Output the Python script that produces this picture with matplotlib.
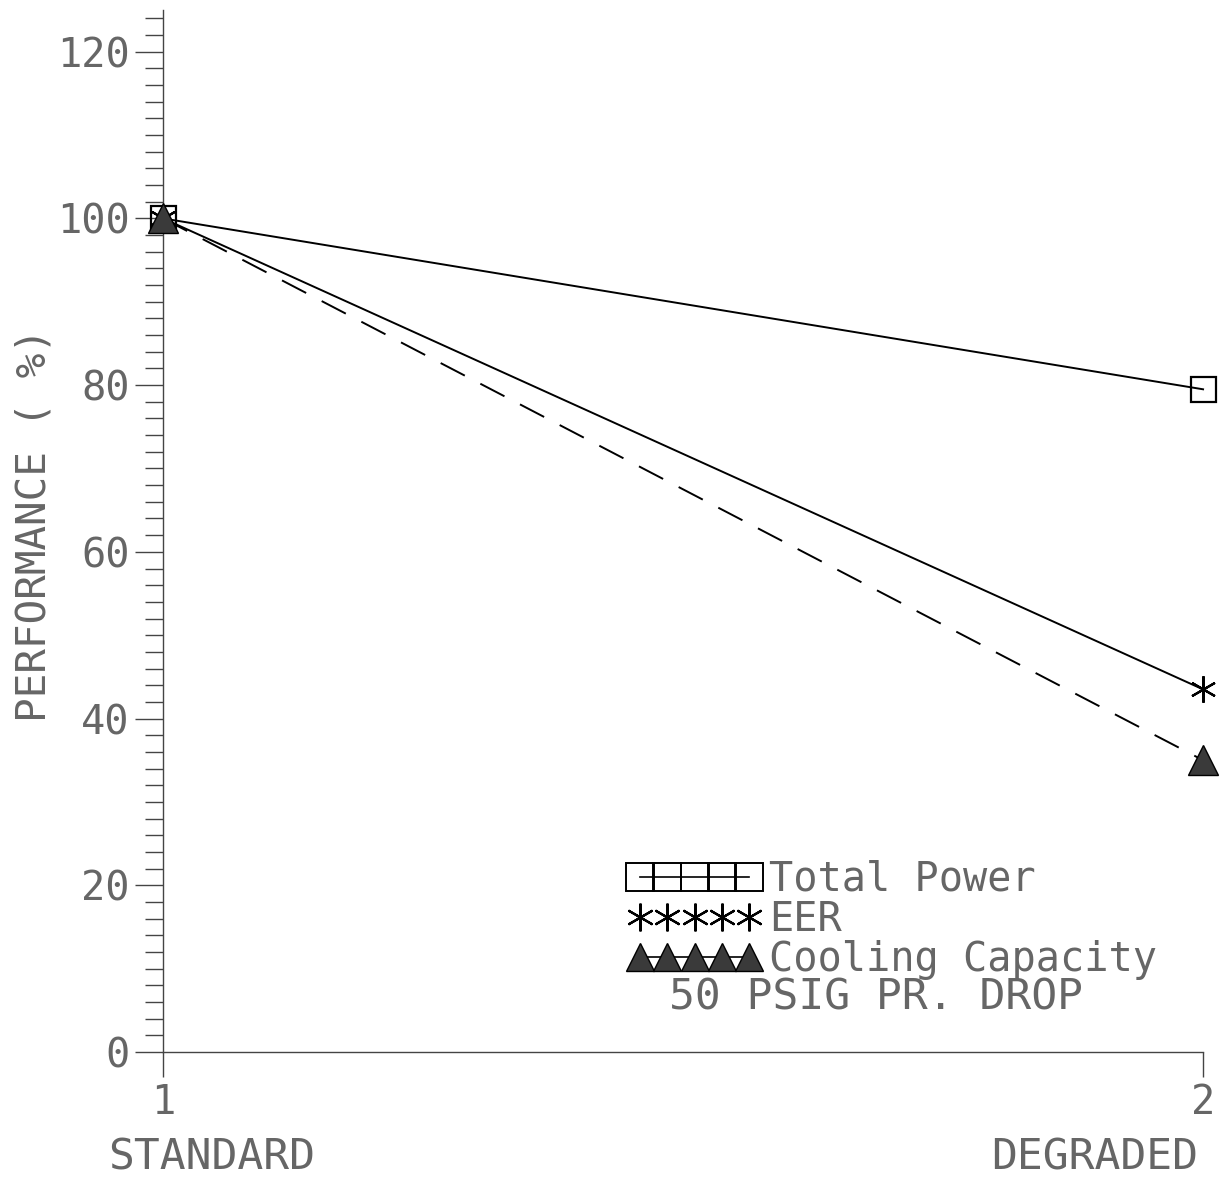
import matplotlib
matplotlib.use("Agg")
import matplotlib.pyplot as plt
from matplotlib.lines import Line2D

# values
x = [1, 2]
total_power = [100, 79.5]
eer = [100, 43.5]
cooling = [100, 35]
xlabels = ["STANDARD", "DEGRADED"]
yticks = [0, 20, 40, 60, 80, 100, 120]

plt.rcParams['font.family'] = ['DejaVu Sans Mono']
txt = '#666666'

fig = plt.figure(figsize=(12.23, 11.8), dpi=100)
ax = fig.add_axes([0.1333, 0.1085, 0.8504, 0.883])

ax.plot(x, total_power, color='black', lw=1.4, marker='s', ms=18,
        mfc='none', mec='black', mew=1.6, clip_on=False, zorder=3)
ax.plot(x, eer, color='black', lw=1.4, marker=(6, 2, 0), ms=19,
        mec='black', mew=1.6, clip_on=False, zorder=3)
ax.plot(x, cooling, color='black', lw=1.4, ls=(0, (14, 9)), marker='^', ms=21,
        mfc='#3a3a3a', mec='black', mew=1.0, clip_on=False, zorder=3)

ax.set_xlim(1, 2)
ax.set_ylim(0, 125)
ax.set_yticks(yticks)
ax.set_yticks(range(0, 126, 2), minor=True)
ax.set_xticks([1, 2])
ax.set_yticklabels([str(v) for v in yticks], fontsize=29, color=txt)
ax.set_xticklabels(['1', '2'], fontsize=29, color=txt)
ax.tick_params(axis='y', which='major', direction='out', length=20, width=1.0, pad=4, color='#444444')
ax.tick_params(axis='y', which='minor', direction='out', length=13, width=1.0, color='#444444')
ax.tick_params(axis='x', which='major', direction='out', length=18, width=1.0, pad=4, color='#444444')
for s in ['top', 'right']:
    ax.spines[s].set_visible(False)
for s in ['left', 'bottom']:
    ax.spines[s].set_color('#444444')
    ax.spines[s].set_linewidth(1.0)

fig.text(35 / 1223, 1 - 525 / 1180, "PERFORMANCE ( %)", fontsize=29.5, color=txt,
         rotation=90, ha='center', va='center')

fig.text(212 / 1223, 1 - 1158 / 1180, xlabels[0], fontsize=31, color=txt,
         ha='center', va='center')
fig.text(1198 / 1223, 1 - 1158 / 1180, xlabels[1], fontsize=31, color=txt,
         ha='right', va='center')

handles = [
    Line2D([], [], color='black', lw=1.2, marker='s', ms=20, mfc='none', mec='black', mew=1.4),
    Line2D([], [], color='none', marker=(6, 2, 0), ms=20, mec='black', mew=1.6),
    Line2D([], [], color='black', lw=1.2, marker='^', ms=20, mfc='#3a3a3a', mec='black', mew=1.0),
]
leg = ax.legend(handles, ["Total Power", "EER", "Cooling Capacity"],
                loc='upper left', bbox_to_anchor=((628 - 163) / 1040, (1052 - 860) / 1042),
                frameon=False, borderaxespad=0, borderpad=0,
                numpoints=5, handlelength=3.3, handletextpad=0.2,
                labelspacing=0.0, fontsize=29, markerscale=1.0)
for t in leg.get_texts():
    t.set_color(txt)

fig.text(876 / 1223, 1 - 997 / 1180, "50 PSIG PR. DROP", fontsize=31,
         color=txt, ha='center', va='center')

fig.savefig("out.png", dpi=100)
